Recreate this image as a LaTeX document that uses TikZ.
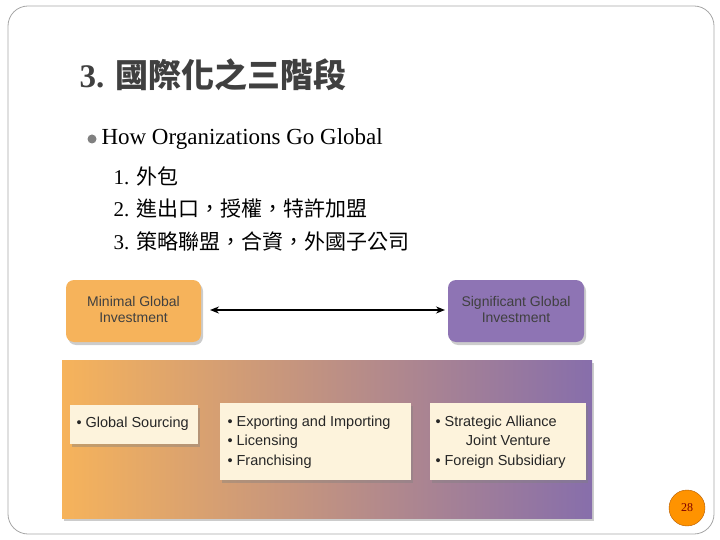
\documentclass[tikz,border=0pt]{standalone}
\usepackage{fontspec}
\setmainfont{Liberation Serif}
\newfontfamily\cjk{Noto Sans CJK TC}
\newfontfamily\arial{Liberation Sans}
\usetikzlibrary{shadows,arrows.meta}
\definecolor{org}{HTML}{F6B35B}
\definecolor{pur}{HTML}{8E74B4}
\definecolor{cream}{HTML}{FDF3DC}
\definecolor{tgray}{HTML}{404040}
\begin{document}
\begin{tikzpicture}[x=1pt,y=-1pt,
  endbox/.style={rounded corners=8pt,drop shadow={shadow xshift=2pt,shadow yshift=-3pt,opacity=.4}},
  itembox/.style={fill=cream,drop shadow={shadow xshift=2pt,shadow yshift=-3pt,opacity=.4}},
  lbl/.style={font=\arial\fontsize{14}{16}\selectfont,align=center,text=tgray},
  itm/.style={font=\arial\fontsize{14.5}{19.5}\selectfont,align=left,text=black!85,anchor=north west}]
\useasboundingbox (0,0) rectangle (720,540);
\draw[gray!70,line width=0.8pt,rounded corners=20pt] (8,6) rectangle (714,534);
\node[anchor=west,text=tgray,font=\bfseries\fontsize{33}{36}\selectfont] (title) at (76,75) {3. {\cjk\bfseries 國際化之三階段}};
\fill[gray] (92,139) circle (4.5);
\node[anchor=west,font=\fontsize{23}{26}\selectfont] (h) at (98,139) {How Organizations Go Global};
\node[anchor=west,font=\fontsize{21}{24}\selectfont] (l1) at (110,176) {1. {\cjk 外包}};
\node[anchor=west,font=\fontsize{21}{24}\selectfont] (l2) at (110,209) {2. {\cjk 進出口，授權，特許加盟}};
\node[anchor=west,font=\fontsize{21}{24}\selectfont] (l3) at (110,242) {3. {\cjk 策略聯盟，合資，外國子公司}};
\fill[org,endbox] (66,280) rectangle (201,342);
\node[lbl] (min) at (133.5,309) {Minimal Global\\Investment};
\fill[pur,endbox] (448,280) rectangle (584,342);
\node[lbl] (sig) at (516,309) {Significant Global\\Investment};
\coordinate (a1) at (210,310); \coordinate (a2) at (445,310);
\draw[{Stealth[length=9pt,width=7pt]}-{Stealth[length=9pt,width=7pt]},line width=1.6pt] (a1) -- (a2);
\shade[left color=org,right color=pur!95!black,drop shadow={shadow xshift=2pt,shadow yshift=-3pt,opacity=.4}] (62,360) rectangle (592,518);
\fill[itembox] (70,405) rectangle (198,444);
\node[itm] (b1) at (73,413) {• Global Sourcing};
\fill[itembox] (220,403) rectangle (411,480);
\node[itm] (b2) at (224,412) {• Exporting and Importing\\• Licensing\\• Franchising};
\fill[itembox] (430,403) rectangle (586,480);
\node[itm] (b3) at (432,412) {• Strategic Alliance\\\hspace{2.1em}Joint Venture\\• Foreign Subsidiary};
\draw[orange!70!black,fill=orange!85!yellow] (687,508) circle (18);
\node[font=\fontsize{12}{14}\selectfont,text=red!50!black] (pg) at (687,508) {28};
\end{tikzpicture}
\end{document}
